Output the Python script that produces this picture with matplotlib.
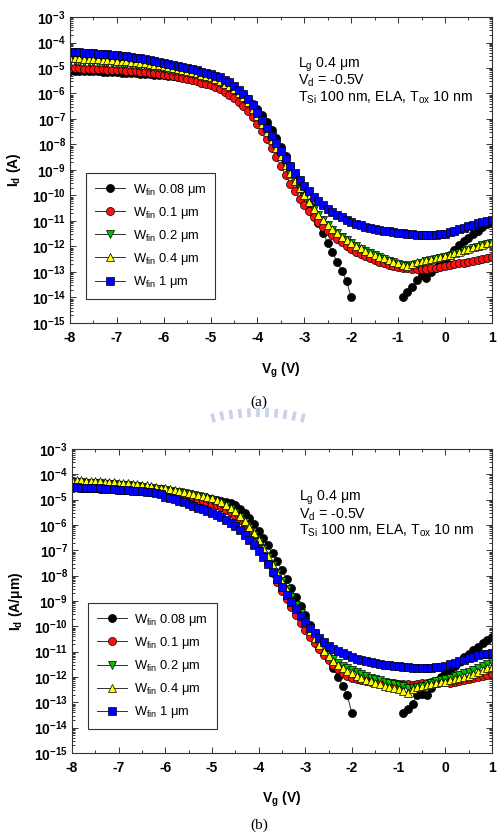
import numpy as np
import matplotlib
matplotlib.use('Agg')
from matplotlib import pyplot as plt
from matplotlib.lines import Line2D
from matplotlib.ticker import FuncFormatter, MultipleLocator, LogLocator, NullFormatter

plt.rcParams['font.family'] = ['Liberation Sans', 'DejaVu Sans']
plt.rcParams['mathtext.fontset'] = 'custom'
plt.rcParams['mathtext.rm'] = 'Liberation Sans'
plt.rcParams['mathtext.bf'] = 'Liberation Sans:bold'
plt.rcParams['mathtext.it'] = 'Liberation Sans:italic'
plt.rcParams['axes.unicode_minus'] = False

# gate sweep, -8 V to 1 V in 0.1 V steps
vg = np.round(np.arange(-80, 11) / 10.0, 1)
nan = np.nan

labels = ['W$_{\\rm fin}$ 0.08 \u03bcm', 'W$_{\\rm fin}$ 0.1 \u03bcm', 'W$_{\\rm fin}$ 0.2 \u03bcm',
          'W$_{\\rm fin}$ 0.4 \u03bcm', 'W$_{\\rm fin}$ 1 \u03bcm']
markers = ['o', 'o', 'v', '^', 's']
colors = ['#000000', '#ff1010', '#00c000', '#ffff00', '#0000ff']

# ---- panel (a): log10(Id [A]) ----
a_w008 = [-5.10, -5.10, -5.11, -5.11, -5.12, -5.13, -5.13, -5.14, -5.15, -5.16,
          -5.17, -5.18, -5.19, -5.20, -5.21, -5.22, -5.23, -5.25, -5.26, -5.28,
          -5.29, -5.31, -5.33, -5.35, -5.37, -5.39, -5.41, -5.44, -5.47, -5.50,
          -5.53, -5.57, -5.61, -5.66, -5.72, -5.80, -5.90, -6.03, -6.20, -6.40,
          -6.62, -6.85, -7.10, -7.42, -7.76, -8.11, -8.47, -8.84, -9.21, -9.58,
          -9.95, -10.32, -10.70, -11.08, -11.47, -11.86, -12.23, -12.60, -12.96, -13.35,
          -14.00, nan, nan, nan, nan, nan, nan, nan, nan, nan,
          nan, -13.98, -13.80, -13.60, -13.30, -13.10, -13.24, -13.00, -12.84, -12.68,
          -12.53, -12.35, -12.15, -11.94, -11.80, -11.67, -11.52, -11.38, -11.25, -11.12,
          -11.05]
a_w01 = [-5.00, -5.01, -5.01, -5.02, -5.03, -5.03, -5.04, -5.05, -5.06, -5.07,
         -5.08, -5.09, -5.10, -5.12, -5.13, -5.15, -5.17, -5.19, -5.21, -5.23,
         -5.26, -5.29, -5.32, -5.35, -5.39, -5.43, -5.47, -5.52, -5.57, -5.62,
         -5.66, -5.74, -5.83, -5.93, -6.05, -6.18, -6.33, -6.50, -6.70, -6.93,
         -7.18, -7.46, -7.78, -8.12, -8.48, -8.85, -9.20, -9.53, -9.84, -10.12,
         -10.38, -10.62, -10.84, -11.04, -11.22, -11.39, -11.55, -11.70, -11.84, -11.97,
         -12.09, -12.20, -12.30, -12.39, -12.47, -12.54, -12.60, -12.66, -12.71, -12.76,
         -12.80, -12.83, -12.86, -12.88, -12.89, -12.89, -12.88, -12.86, -12.84, -12.81,
         -12.77, -12.72, -12.69, -12.66, -12.63, -12.60, -12.56, -12.52, -12.48, -12.44,
         -12.41]
a_w02 = [-4.73, -4.74, -4.75, -4.76, -4.77, -4.78, -4.79, -4.80, -4.81, -4.82,
         -4.83, -4.84, -4.86, -4.88, -4.90, -4.92, -4.94, -4.96, -4.98, -5.01,
         -5.04, -5.07, -5.10, -5.13, -5.17, -5.21, -5.25, -5.29, -5.34, -5.39,
         -5.44, -5.50, -5.57, -5.65, -5.75, -5.87, -6.01, -6.18, -6.38, -6.64,
         -6.92, -7.24, -7.54, -7.85, -8.17, -8.50, -8.83, -9.15, -9.46, -9.76,
         -10.04, -10.30, -10.54, -10.77, -10.98, -11.17, -11.34, -11.49, -11.63, -11.76,
         -11.87, -11.98, -12.08, -12.17, -12.26, -12.34, -12.42, -12.49, -12.56, -12.62,
         -12.68, -12.73, -12.78, -12.74, -12.68, -12.63, -12.58, -12.54, -12.50, -12.46,
         -12.42, -12.36, -12.30, -12.24, -12.18, -12.12, -12.06, -12.01, -11.96, -11.91,
         -11.87]
a_w04 = [-4.60, -4.61, -4.62, -4.63, -4.64, -4.65, -4.66, -4.67, -4.68, -4.69,
         -4.71, -4.72, -4.74, -4.76, -4.78, -4.80, -4.82, -4.85, -4.87, -4.90,
         -4.93, -4.96, -5.00, -5.04, -5.08, -5.12, -5.16, -5.21, -5.26, -5.31,
         -5.37, -5.44, -5.52, -5.61, -5.71, -5.83, -5.97, -6.14, -6.34, -6.60,
         -6.88, -7.20, -7.50, -7.81, -8.13, -8.46, -8.79, -9.11, -9.42, -9.72,
         -10.00, -10.27, -10.52, -10.75, -10.96, -11.15, -11.32, -11.48, -11.62, -11.75,
         -11.86, -11.97, -12.07, -12.16, -12.25, -12.33, -12.40, -12.47, -12.54, -12.60,
         -12.66, -12.72, -12.78, -12.68, -12.62, -12.58, -12.54, -12.50, -12.46, -12.42,
         -12.38, -12.32, -12.26, -12.20, -12.14, -12.09, -12.03, -11.98, -11.93, -11.88,
         -11.83]
a_w1 = [-4.37, -4.38, -4.39, -4.40, -4.41, -4.42, -4.44, -4.45, -4.47, -4.48,
        -4.50, -4.52, -4.54, -4.56, -4.59, -4.62, -4.65, -4.69, -4.73, -4.77,
        -4.81, -4.85, -4.89, -4.93, -4.97, -5.01, -5.05, -5.09, -5.14, -5.19,
        -5.24, -5.30, -5.37, -5.46, -5.56, -5.70, -5.85, -6.02, -6.22, -6.45,
        -6.75, -7.05, -7.35, -7.65, -7.95, -8.25, -8.55, -8.85, -9.12, -9.38,
        -9.62, -9.84, -10.04, -10.22, -10.38, -10.52, -10.65, -10.76, -10.86, -10.95,
        -11.03, -11.10, -11.16, -11.22, -11.27, -11.31, -11.35, -11.38, -11.41, -11.44,
        -11.46, -11.48, -11.50, -11.52, -11.54, -11.55, -11.56, -11.56, -11.55, -11.53,
        -11.50, -11.45, -11.39, -11.33, -11.27, -11.21, -11.15, -11.09, -11.04, -11.00,
        -10.97]

# ---- panel (b): log10(Id [A/um]) ----
b_w008 = [-4.50, -4.51, -4.52, -4.53, -4.54, -4.55, -4.56, -4.57, -4.58, -4.59,
          -4.60, -4.61, -4.62, -4.63, -4.64, -4.66, -4.67, -4.69, -4.70, -4.72,
          -4.74, -4.76, -4.78, -4.80, -4.82, -4.84, -4.86, -4.89, -4.92, -4.95,
          -4.98, -5.01, -5.04, -5.08, -5.13, -5.22, -5.35, -5.52, -5.73, -5.96,
          -6.22, -6.50, -6.79, -7.10, -7.43, -7.77, -8.12, -8.48, -8.84, -9.20,
          -9.57, -9.93, -10.28, -10.62, -10.96, -11.30, -11.64, -11.98, -12.34, -12.72,
          -13.42, nan, nan, nan, nan, nan, nan, nan, nan, nan,
          nan, -13.42, -13.25, -13.05, -12.71, -12.68, -12.71, -12.45, -12.22, -12.00,
          -11.85, -11.75, -11.58, -11.40, -11.22, -11.08, -10.95, -10.80, -10.66, -10.52,
          -10.42]
b_w01 = [-4.45, -4.46, -4.47, -4.48, -4.49, -4.50, -4.51, -4.52, -4.53, -4.55,
         -4.56, -4.58, -4.59, -4.61, -4.63, -4.65, -4.67, -4.69, -4.71, -4.74,
         -4.77, -4.80, -4.83, -4.86, -4.90, -4.94, -4.98, -5.02, -5.07, -5.12,
         -5.17, -5.23, -5.30, -5.39, -5.50, -5.63, -5.79, -5.98, -6.20, -6.45,
         -6.75, -7.12, -7.50, -7.88, -8.25, -8.60, -8.93, -9.25, -9.56, -9.86,
         -10.15, -10.42, -10.67, -10.91, -11.13, -11.34, -11.53, -11.70, -11.84, -11.95,
         -12.03, -12.08, -12.12, -12.15, -12.18, -12.20, -12.22, -12.23, -12.24, -12.25,
         -12.26, -12.27, -12.29, -12.30, -12.28, -12.25, -12.22, -12.18, -12.15, -12.13,
         -12.14, -12.22, -12.20, -12.17, -12.13, -12.09, -12.05, -12.01, -11.97, -11.93,
         -11.88]
b_w02 = [-4.30, -4.31, -4.32, -4.33, -4.34, -4.35, -4.36, -4.37, -4.38, -4.40,
         -4.41, -4.43, -4.44, -4.46, -4.48, -4.50, -4.52, -4.54, -4.56, -4.59,
         -4.62, -4.65, -4.68, -4.71, -4.74, -4.78, -4.82, -4.86, -4.91, -4.96,
         -5.01, -5.08, -5.16, -5.26, -5.38, -5.52, -5.69, -5.89, -6.12, -6.38,
         -6.66, -6.95, -7.25, -7.56, -7.88, -8.20, -8.52, -8.84, -9.16, -9.48,
         -9.80, -10.11, -10.41, -10.68, -10.92, -11.12, -11.29, -11.43, -11.55, -11.65,
         -11.74, -11.82, -11.89, -11.96, -12.02, -12.08, -12.13, -12.18, -12.23, -12.28,
         -12.33, -12.37, -12.42, -12.44, -12.40, -12.34, -12.28, -12.22, -12.17, -12.12,
         -12.07, -12.02, -11.97, -11.92, -11.86, -11.80, -11.74, -11.66, -11.58, -11.49,
         -11.41]
b_w04 = [-4.22, -4.23, -4.24, -4.25, -4.26, -4.27, -4.28, -4.29, -4.30, -4.31,
         -4.33, -4.34, -4.36, -4.38, -4.40, -4.42, -4.44, -4.47, -4.49, -4.52,
         -4.55, -4.58, -4.61, -4.64, -4.68, -4.72, -4.76, -4.80, -4.85, -4.90,
         -4.95, -5.02, -5.10, -5.20, -5.32, -5.46, -5.63, -5.83, -6.06, -6.32,
         -6.61, -6.91, -7.23, -7.56, -7.90, -8.24, -8.58, -8.91, -9.23, -9.55,
         -9.86, -10.17, -10.46, -10.73, -10.97, -11.18, -11.36, -11.52, -11.65, -11.76,
         -11.86, -11.95, -12.03, -12.10, -12.17, -12.23, -12.29, -12.34, -12.39, -12.43,
         -12.48, -12.54, -12.62, -12.46, -12.41, -12.37, -12.32, -12.27, -12.22, -12.20,
         -12.18, -12.13, -12.09, -12.04, -11.99, -11.94, -11.88, -11.80, -11.72, -11.65,
         -11.60]
b_w1 = [-4.50, -4.51, -4.52, -4.52, -4.53, -4.54, -4.55, -4.56, -4.57, -4.58,
        -4.60, -4.61, -4.62, -4.64, -4.66, -4.67, -4.69, -4.71, -4.74, -4.76,
        -4.88, -4.93, -4.99, -5.05, -5.11, -5.17, -5.24, -5.31, -5.38, -5.45,
        -5.52, -5.60, -5.69, -5.79, -5.91, -6.05, -6.21, -6.38, -6.58, -6.80,
        -7.03, -7.28, -7.55, -7.85, -8.15, -8.45, -8.75, -9.04, -9.32, -9.58,
        -9.82, -10.05, -10.26, -10.45, -10.62, -10.76, -10.88, -10.98, -11.07, -11.15,
        -11.22, -11.28, -11.33, -11.37, -11.41, -11.45, -11.48, -11.51, -11.53, -11.55,
        -11.57, -11.59, -11.61, -11.63, -11.64, -11.65, -11.65, -11.64, -11.62, -11.60,
        -11.56, -11.50, -11.43, -11.37, -11.31, -11.25, -11.20, -11.15, -11.11, -11.08,
        -11.05]

curves_a = [a_w008, a_w01, a_w02, a_w04, a_w1]
curves_b = [b_w008, b_w01, b_w02, b_w04, b_w1]


def dec_label(y, pos):
    return r'$\mathbf{10^{%d}}$' % int(round(np.log10(y)))


def draw(ax, curves, ylabel, note_y):
    for logs, lab, mk, col in zip(curves, labels, markers, colors):
        ax.plot(vg, 10.0 ** np.array(logs), color='#303030', lw=0.7, marker=mk,
                ms=5.8, mfc=col, mec='black', mew=0.5, label=lab)
    ax.set_yscale('log')
    ax.set_xlim(-8, 1)
    ax.set_ylim(1e-15, 1e-3)
    ax.xaxis.set_major_locator(MultipleLocator(1))
    ax.xaxis.set_minor_locator(MultipleLocator(0.5))
    ax.yaxis.set_major_locator(LogLocator(base=10, numticks=20))
    ax.yaxis.set_minor_locator(LogLocator(base=10, subs=np.arange(2, 10), numticks=20))
    ax.yaxis.set_major_formatter(FuncFormatter(dec_label))
    ax.yaxis.set_minor_formatter(NullFormatter())
    ax.tick_params(which='both', direction='in', top=True, right=True, width=0.7, colors='#333333')
    ax.tick_params(which='major', length=4, labelsize=10, labelcolor='black')
    ax.tick_params(axis='x', which='major', pad=6)
    ax.tick_params(axis='y', which='major', pad=3)
    ax.tick_params(which='minor', length=2)
    for lab in ax.get_xticklabels():
        lab.set_fontweight('bold')
    for sp in ax.spines.values():
        sp.set_color('#333333')
        sp.set_linewidth(0.8)
    ax.set_xlabel('V$_\\mathbf{g}$ (V)', fontweight='bold', fontsize=10)
    ax.set_ylabel(ylabel, fontweight='bold', fontsize=10)
    ax.xaxis.set_label_coords(0.5, -0.122)
    ax.yaxis.set_label_coords(-0.112, 0.5)
    leg = ax.legend(loc='lower left', bbox_to_anchor=(0.038, 0.078), fontsize=9.3, frameon=True,
                    fancybox=False, edgecolor='#333333', framealpha=1, handlelength=2.3,
                    handletextpad=0.6, labelspacing=0.55, borderpad=0.7, borderaxespad=0)
    leg.get_frame().set_linewidth(0.8)
    notes = ['L$_{\\rm g}$ 0.4 \u03bcm', 'V$_{\\rm d}$ = -0.5V',
             'T$_{\\rm Si}$ 100 nm, ELA, T$_{\\rm ox}$ 10 nm']
    for txt, yy in zip(notes, note_y):
        ax.text(0.54, yy, txt, transform=ax.transAxes, fontsize=10.2, va='center', ha='left')


fig = plt.figure(figsize=(5.01, 8.38), dpi=100)
ax1 = fig.add_axes([0.1397, 0.6146, 0.842, 0.3651])
ax2 = fig.add_axes([0.1437, 0.1014, 0.838, 0.3628])

draw(ax1, curves_a, 'I$_\\mathbf{d}$ (A)', [0.845, 0.793, 0.737])
draw(ax2, curves_b, 'I$_\\mathbf{d}$ (A/\u03bcm)', [0.839, 0.783, 0.730])

fig.text(0.517, 0.520, '(a)', fontsize=11, family='Liberation Serif', ha='center', va='center')
fig.text(0.517, 0.007, '(b)', fontsize=11, family='Liberation Serif', ha='center', va='bottom')

# faint watermark arc under "(a)" (page background of the source scan)
cx, cy, r0, r1 = 258.0, 598.0, 181.0, 190.0
for ang in np.deg2rad(np.arange(-14, 15, 2.8)):
    xs = [(cx + r * np.sin(ang)) / 501.0 for r in (r0, r1)]
    ys = [1 - (cy - r * np.cos(ang)) / 838.0 for r in (r0, r1)]
    fig.add_artist(Line2D(xs, ys, color='#c9d1ee', lw=2.6, solid_capstyle='butt'))

fig.savefig('out.png', dpi=100)
